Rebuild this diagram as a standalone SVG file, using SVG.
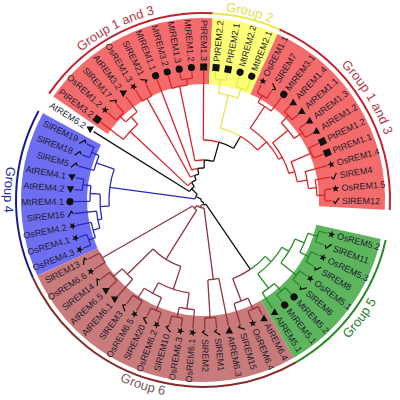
<svg xmlns="http://www.w3.org/2000/svg" width="400" height="400" viewBox="0 0 400 400">
<defs>
<style>
.t{font-family:"Liberation Sans",Arial,sans-serif;font-size:9px;fill:#1c1c30;dominant-baseline:central}
.e{text-anchor:end}
.gl{font-family:"Liberation Sans",Arial,sans-serif;font-size:13px;text-anchor:middle}
.k{stroke:#111}.r{stroke:#d8262a}.y{stroke:#e6e650}.b{stroke:#2a2ab8}.g{stroke:#2a8a2a}.m{stroke:#8e3540}
</style>
<path id="st" d="M0,-4L0.94,-1.29L3.8,-1.24L1.52,0.49L2.35,3.24L0,1.6L-2.35,3.24L-1.52,0.49L-3.8,-1.24L-0.94,-1.29Z"/>
<path id="tu" d="M0,-3.8L3.8,3L-3.8,3Z"/>
<path id="td" d="M0,3.8L3.8,-3L-3.8,-3Z"/>
<path id="ck" d="M-2.8,0L-0.8,2.4L3,-3" fill="none" stroke="#111" stroke-width="1.3"/>
<path id="p1" d="M42,95.4A192,192 0 0 1 213,8.3"/>
<path id="p2" d="M150.6,17.4A190,190 0 0 1 335,63.3"/>
<path id="p3" d="M293.6,29.6A193,193 0 0 1 395.9,193.3"/>
<path id="p4" d="M36.1,91.6A199,199 0 0 0 25.7,290.3"/>
<path id="p5" d="M281.53,385.02A201,201 0 0 0 402.49,224.5"/>
<path id="p6" d="M55.12,333.15A199,199 0 0 0 244.37,394.64"/>
</defs>
<rect width="400" height="400" fill="#fff"/>
<g id="bands" transform="translate(203,200)" fill="none" stroke-width="66">
<circle r="149" pathLength="360" stroke-dasharray="58.3 999" transform="rotate(214.65)" stroke="#f46b6b"/>
<circle r="149" pathLength="360" stroke-dasharray="21.2 999" transform="rotate(272.95)" stroke="#ffff77"/>
<circle r="149" pathLength="360" stroke-dasharray="68.9 999" transform="rotate(294.15)" stroke="#f46b6b"/>
<circle r="149" pathLength="360" stroke-dasharray="47.7 999" transform="rotate(12.35)" stroke="#5db65d"/>
<circle r="149" pathLength="360" stroke-dasharray="95.4 999" transform="rotate(60.05)" stroke="#c97a7a"/>
<circle r="149" pathLength="360" stroke-dasharray="53 999" transform="rotate(155.45)" stroke="#6e6ef2"/>
</g>
<g id="group-arcs" transform="translate(203,200)" fill="none" stroke-width="2">
<circle r="187" pathLength="360" stroke-dasharray="58.3 999" transform="rotate(214.65)" stroke="#c0232d"/>
<circle r="187" pathLength="360" stroke-dasharray="21.2 999" transform="rotate(272.95)" stroke="#e8e84a"/>
<circle r="187" pathLength="360" stroke-dasharray="68.9 999" transform="rotate(294.15)" stroke="#c0232d"/>
<circle r="187" pathLength="360" stroke-dasharray="47.7 999" transform="rotate(12.35)" stroke="#2a8a2a"/>
<circle r="187" pathLength="360" stroke-dasharray="95.4 999" transform="rotate(60.05)" stroke="#862a2a"/>
<circle r="187" pathLength="360" stroke-dasharray="53 999" transform="rotate(155.45)" stroke="#1a1a8c"/>
</g>
<g id="group-labels" class="gl">
<text fill="#b03a48"><textPath href="#p1" startOffset="50%">Group 1 and 3</textPath></text>
<text fill="#e0e050"><textPath href="#p2" startOffset="50%">Group 2</textPath></text>
<text fill="#b03a48"><textPath href="#p3" startOffset="50%">Group 1 and 3</textPath></text>
<text fill="#2a2aa8"><textPath href="#p4" startOffset="50%">Group 4</textPath></text>
<text fill="#2e802e"><textPath href="#p5" startOffset="50%">Group 5</textPath></text>
<text fill="#7a5a5a"><textPath href="#p6" startOffset="50%">Group 6</textPath></text>
</g>
<g id="connectors" transform="translate(203,200)" fill="none" stroke-width="1.3">
<g class="k">
<path d="M2 0H5" transform="rotate(82.5)"/>
<path d="M2 0H8" transform="rotate(206.1)"/>
<path d="M5 0H84" transform="rotate(55.7)"/>
<path d="M8 0H16" transform="rotate(224.5)"/>
<path d="M16 0H129" transform="rotate(212)"/>
<path d="M16 0H21" transform="rotate(237)"/>
<path d="M21 0H26" transform="rotate(250.8)"/>
<path d="M26 0H32" transform="rotate(260.5)"/>
<path d="M32 0H40" transform="rotate(271.9)"/>
<path d="M40 0H60" transform="rotate(285.43)"/>
<path d="M60 0H74" transform="rotate(300.56)"/>
<circle r="2" pathLength="360" stroke-dasharray="123.6 999" transform="rotate(82.5)"/>
<circle r="5" pathLength="360" stroke-dasharray="26.8 999" transform="rotate(55.7)"/>
<circle r="8" pathLength="360" stroke-dasharray="18.4 999" transform="rotate(206.1)"/>
<circle r="16" pathLength="360" stroke-dasharray="25 999" transform="rotate(212)"/>
<circle r="21" pathLength="360" stroke-dasharray="13.8 999" transform="rotate(237)"/>
<circle r="26" pathLength="360" stroke-dasharray="9.7 999" transform="rotate(250.8)"/>
<circle r="32" pathLength="360" stroke-dasharray="11.4 999" transform="rotate(260.5)"/>
<circle r="40" pathLength="360" stroke-dasharray="13.53 999" transform="rotate(271.9)"/>
<circle r="60" pathLength="360" stroke-dasharray="15.13 999" transform="rotate(285.43)"/>
</g>
<g class="m">
<path d="M5 0H8" transform="rotate(109.35)"/>
<path d="M84 0H108" transform="rotate(69.3)"/>
<path d="M8 0H80" transform="rotate(82.6)"/>
<path d="M8 0H12" transform="rotate(136.1)"/>
<path d="M12 0H116" transform="rotate(150.15)"/>
<path d="M12 0H70" transform="rotate(122)"/>
<path d="M70 0H106" transform="rotate(135.575)"/>
<path d="M70 0H94" transform="rotate(108.41)"/>
<path d="M106 0H118" transform="rotate(139.55)"/>
<path d="M106 0H129" transform="rotate(131.6)"/>
<path d="M94 0H106" transform="rotate(118.35)"/>
<path d="M94 0H110" transform="rotate(98.475)"/>
<path d="M106 0H118" transform="rotate(123.65)"/>
<path d="M106 0H120" transform="rotate(113.05)"/>
<path d="M110 0H120" transform="rotate(102.45)"/>
<path d="M110 0H129" transform="rotate(94.5)"/>
<path d="M120 0H129" transform="rotate(99.8)"/>
<path d="M120 0H129" transform="rotate(105.1)"/>
<path d="M120 0H129" transform="rotate(110.4)"/>
<path d="M120 0H129" transform="rotate(115.7)"/>
<path d="M118 0H129" transform="rotate(121)"/>
<path d="M118 0H129" transform="rotate(126.3)"/>
<path d="M118 0H129" transform="rotate(136.9)"/>
<path d="M118 0H129" transform="rotate(142.2)"/>
<path d="M116 0H129" transform="rotate(147.5)"/>
<path d="M116 0H129" transform="rotate(152.8)"/>
<path d="M80 0H118" transform="rotate(86.55)"/>
<path d="M80 0H129" transform="rotate(78.6)"/>
<path d="M118 0H129" transform="rotate(83.9)"/>
<path d="M118 0H129" transform="rotate(89.2)"/>
<path d="M108 0H120" transform="rotate(65.35)"/>
<path d="M108 0H129" transform="rotate(73.3)"/>
<path d="M120 0H129" transform="rotate(62.7)"/>
<path d="M120 0H129" transform="rotate(68)"/>
<circle r="5" pathLength="360" stroke-dasharray="26.85 999" transform="rotate(82.5)"/>
<circle r="84" pathLength="360" stroke-dasharray="13.6 999" transform="rotate(55.7)"/>
<circle r="8" pathLength="360" stroke-dasharray="53.5 999" transform="rotate(82.6)"/>
<circle r="12" pathLength="360" stroke-dasharray="28.15 999" transform="rotate(122)"/>
<circle r="70" pathLength="360" stroke-dasharray="27.165 999" transform="rotate(108.41)"/>
<circle r="106" pathLength="360" stroke-dasharray="7.95 999" transform="rotate(131.6)"/>
<circle r="94" pathLength="360" stroke-dasharray="19.875 999" transform="rotate(98.475)"/>
<circle r="106" pathLength="360" stroke-dasharray="10.6 999" transform="rotate(113.05)"/>
<circle r="110" pathLength="360" stroke-dasharray="7.95 999" transform="rotate(94.5)"/>
<circle r="120" pathLength="360" stroke-dasharray="5.3 999" transform="rotate(99.8)"/>
<circle r="120" pathLength="360" stroke-dasharray="5.3 999" transform="rotate(110.4)"/>
<circle r="118" pathLength="360" stroke-dasharray="5.3 999" transform="rotate(121)"/>
<circle r="118" pathLength="360" stroke-dasharray="5.3 999" transform="rotate(136.9)"/>
<circle r="116" pathLength="360" stroke-dasharray="5.3 999" transform="rotate(147.5)"/>
<circle r="80" pathLength="360" stroke-dasharray="7.95 999" transform="rotate(78.6)"/>
<circle r="118" pathLength="360" stroke-dasharray="5.3 999" transform="rotate(83.9)"/>
<circle r="108" pathLength="360" stroke-dasharray="7.95 999" transform="rotate(65.35)"/>
<circle r="120" pathLength="360" stroke-dasharray="5.3 999" transform="rotate(62.7)"/>
</g>
<g class="g">
<path d="M84 0H92" transform="rotate(42.15)"/>
<path d="M92 0H100" transform="rotate(30.9)"/>
<path d="M92 0H110" transform="rotate(53.4)"/>
<path d="M100 0H110" transform="rotate(22.95)"/>
<path d="M100 0H120" transform="rotate(38.85)"/>
<path d="M110 0H120" transform="rotate(17.65)"/>
<path d="M110 0H120" transform="rotate(28.25)"/>
<path d="M110 0H120" transform="rotate(49.45)"/>
<path d="M110 0H129" transform="rotate(57.4)"/>
<path d="M120 0H129" transform="rotate(15)"/>
<path d="M120 0H129" transform="rotate(20.3)"/>
<path d="M120 0H129" transform="rotate(25.6)"/>
<path d="M120 0H129" transform="rotate(30.9)"/>
<path d="M120 0H129" transform="rotate(36.2)"/>
<path d="M120 0H129" transform="rotate(41.5)"/>
<path d="M120 0H129" transform="rotate(46.8)"/>
<path d="M120 0H129" transform="rotate(52.1)"/>
<circle r="84" pathLength="360" stroke-dasharray="13.55 999" transform="rotate(42.15)"/>
<circle r="92" pathLength="360" stroke-dasharray="22.5 999" transform="rotate(30.9)"/>
<circle r="100" pathLength="360" stroke-dasharray="15.9 999" transform="rotate(22.95)"/>
<circle r="110" pathLength="360" stroke-dasharray="10.6 999" transform="rotate(17.65)"/>
<circle r="110" pathLength="360" stroke-dasharray="7.95 999" transform="rotate(49.45)"/>
<circle r="120" pathLength="360" stroke-dasharray="5.3 999" transform="rotate(15)"/>
<circle r="120" pathLength="360" stroke-dasharray="5.3 999" transform="rotate(25.6)"/>
<circle r="120" pathLength="360" stroke-dasharray="5.3 999" transform="rotate(36.2)"/>
<circle r="120" pathLength="360" stroke-dasharray="5.3 999" transform="rotate(46.8)"/>
</g>
<g class="b">
<path d="M8 0H94" transform="rotate(187.75)"/>
<path d="M94 0H113" transform="rotate(199.2)"/>
<path d="M94 0H103" transform="rotate(176.3)"/>
<path d="M113 0H121" transform="rotate(203.15)"/>
<path d="M113 0H129" transform="rotate(195.2)"/>
<path d="M103 0H113" transform="rotate(183.3)"/>
<path d="M103 0H107" transform="rotate(169.35)"/>
<path d="M113 0H121" transform="rotate(187.25)"/>
<path d="M113 0H129" transform="rotate(179.3)"/>
<path d="M107 0H114" transform="rotate(164.7)"/>
<path d="M107 0H129" transform="rotate(174)"/>
<path d="M114 0H121" transform="rotate(160.75)"/>
<path d="M114 0H129" transform="rotate(168.7)"/>
<path d="M121 0H129" transform="rotate(200.5)"/>
<path d="M121 0H129" transform="rotate(205.8)"/>
<path d="M121 0H129" transform="rotate(184.6)"/>
<path d="M121 0H129" transform="rotate(189.9)"/>
<path d="M121 0H129" transform="rotate(158.1)"/>
<path d="M121 0H129" transform="rotate(163.4)"/>
<circle r="8" pathLength="360" stroke-dasharray="18.35 999" transform="rotate(187.75)"/>
<circle r="94" pathLength="360" stroke-dasharray="22.9 999" transform="rotate(176.3)"/>
<circle r="113" pathLength="360" stroke-dasharray="7.95 999" transform="rotate(195.2)"/>
<circle r="103" pathLength="360" stroke-dasharray="13.95 999" transform="rotate(169.35)"/>
<circle r="113" pathLength="360" stroke-dasharray="7.95 999" transform="rotate(179.3)"/>
<circle r="107" pathLength="360" stroke-dasharray="9.3 999" transform="rotate(164.7)"/>
<circle r="114" pathLength="360" stroke-dasharray="7.95 999" transform="rotate(160.75)"/>
<circle r="121" pathLength="360" stroke-dasharray="5.3 999" transform="rotate(200.5)"/>
<circle r="121" pathLength="360" stroke-dasharray="5.3 999" transform="rotate(184.6)"/>
<circle r="121" pathLength="360" stroke-dasharray="5.3 999" transform="rotate(158.1)"/>
</g>
<g class="r">
<path d="M21 0H100" transform="rotate(223.25)"/>
<path d="M26 0H116" transform="rotate(241.15)"/>
<path d="M32 0H129" transform="rotate(249.1)"/>
<path d="M40 0H116" transform="rotate(258.4)"/>
<path d="M60 0H129" transform="rotate(270.3)"/>
<path d="M74 0H86" transform="rotate(317.575)"/>
<path d="M100 0H129" transform="rotate(217.3)"/>
<path d="M100 0H110" transform="rotate(229.2)"/>
<path d="M110 0H118" transform="rotate(225.25)"/>
<path d="M110 0H129" transform="rotate(233.2)"/>
<path d="M118 0H129" transform="rotate(222.6)"/>
<path d="M118 0H129" transform="rotate(227.9)"/>
<path d="M116 0H129" transform="rotate(238.5)"/>
<path d="M116 0H129" transform="rotate(243.8)"/>
<path d="M116 0H129" transform="rotate(254.4)"/>
<path d="M116 0H122" transform="rotate(262.35)"/>
<path d="M122 0H129" transform="rotate(259.7)"/>
<path d="M122 0H129" transform="rotate(265)"/>
<path d="M86 0H112" transform="rotate(303.4)"/>
<path d="M86 0H90" transform="rotate(331.75)"/>
<path d="M112 0H120" transform="rotate(299.45)"/>
<path d="M112 0H129" transform="rotate(307.4)"/>
<path d="M120 0H129" transform="rotate(296.8)"/>
<path d="M120 0H129" transform="rotate(302.1)"/>
<path d="M90 0H110" transform="rotate(320.65)"/>
<path d="M90 0H96" transform="rotate(342.85)"/>
<path d="M110 0H120" transform="rotate(315.35)"/>
<path d="M110 0H120" transform="rotate(325.95)"/>
<path d="M120 0H129" transform="rotate(312.7)"/>
<path d="M120 0H129" transform="rotate(318)"/>
<path d="M120 0H129" transform="rotate(323.3)"/>
<path d="M120 0H129" transform="rotate(328.6)"/>
<path d="M96 0H118" transform="rotate(336.55)"/>
<path d="M96 0H106" transform="rotate(349.15)"/>
<path d="M118 0H129" transform="rotate(333.9)"/>
<path d="M118 0H129" transform="rotate(339.2)"/>
<path d="M106 0H129" transform="rotate(344.5)"/>
<path d="M106 0H114" transform="rotate(353.8)"/>
<path d="M114 0H129" transform="rotate(349.8)"/>
<path d="M114 0H122" transform="rotate(357.75)"/>
<path d="M122 0H129" transform="rotate(355.1)"/>
<path d="M122 0H129" transform="rotate(360.4)"/>
<circle r="21" pathLength="360" stroke-dasharray="13.75 999" transform="rotate(223.25)"/>
<circle r="26" pathLength="360" stroke-dasharray="9.65 999" transform="rotate(241.15)"/>
<circle r="32" pathLength="360" stroke-dasharray="11.4 999" transform="rotate(249.1)"/>
<circle r="40" pathLength="360" stroke-dasharray="13.5 999" transform="rotate(258.4)"/>
<circle r="60" pathLength="360" stroke-dasharray="15.13 999" transform="rotate(270.3)"/>
<circle r="74" pathLength="360" stroke-dasharray="17.015 999" transform="rotate(300.56)"/>
<circle r="100" pathLength="360" stroke-dasharray="11.9 999" transform="rotate(217.3)"/>
<circle r="110" pathLength="360" stroke-dasharray="7.95 999" transform="rotate(225.25)"/>
<circle r="118" pathLength="360" stroke-dasharray="5.3 999" transform="rotate(222.6)"/>
<circle r="116" pathLength="360" stroke-dasharray="5.3 999" transform="rotate(238.5)"/>
<circle r="116" pathLength="360" stroke-dasharray="7.95 999" transform="rotate(254.4)"/>
<circle r="122" pathLength="360" stroke-dasharray="5.3 999" transform="rotate(259.7)"/>
<circle r="86" pathLength="360" stroke-dasharray="28.35 999" transform="rotate(303.4)"/>
<circle r="112" pathLength="360" stroke-dasharray="7.95 999" transform="rotate(299.45)"/>
<circle r="120" pathLength="360" stroke-dasharray="5.3 999" transform="rotate(296.8)"/>
<circle r="90" pathLength="360" stroke-dasharray="22.2 999" transform="rotate(320.65)"/>
<circle r="110" pathLength="360" stroke-dasharray="10.6 999" transform="rotate(315.35)"/>
<circle r="120" pathLength="360" stroke-dasharray="5.3 999" transform="rotate(312.7)"/>
<circle r="120" pathLength="360" stroke-dasharray="5.3 999" transform="rotate(323.3)"/>
<circle r="96" pathLength="360" stroke-dasharray="12.6 999" transform="rotate(336.55)"/>
<circle r="118" pathLength="360" stroke-dasharray="5.3 999" transform="rotate(333.9)"/>
<circle r="106" pathLength="360" stroke-dasharray="9.3 999" transform="rotate(344.5)"/>
<circle r="114" pathLength="360" stroke-dasharray="7.95 999" transform="rotate(349.8)"/>
<circle r="122" pathLength="360" stroke-dasharray="5.3 999" transform="rotate(355.1)"/>
</g>
<g class="y">
<path d="M74 0H108" transform="rotate(283.55)"/>
<path d="M108 0H122" transform="rotate(278.25)"/>
<path d="M108 0H118" transform="rotate(288.85)"/>
<path d="M122 0H129" transform="rotate(275.6)"/>
<path d="M122 0H129" transform="rotate(280.9)"/>
<path d="M118 0H129" transform="rotate(286.2)"/>
<path d="M118 0H129" transform="rotate(291.5)"/>
<circle r="74" pathLength="360" stroke-dasharray="17.01 999" transform="rotate(283.55)"/>
<circle r="108" pathLength="360" stroke-dasharray="10.6 999" transform="rotate(278.25)"/>
<circle r="122" pathLength="360" stroke-dasharray="5.3 999" transform="rotate(275.6)"/>
<circle r="118" pathLength="360" stroke-dasharray="5.3 999" transform="rotate(286.2)"/>
</g>
</g>
<g id="leaves" transform="translate(203,200)" fill="#111">
<g id="n-AtREM6_2" transform="rotate(212)"><use href="#td" transform="translate(133,0) rotate(-212)"/><text class="t e" transform="translate(139) rotate(180)">AtREM6.2</text></g>
<g id="n-PtREM3_2" transform="rotate(217.3)"><rect x="129.5" y="-3.5" width="7" height="7"/><text class="t e" transform="translate(139) rotate(180)">PtREM3.2</text></g>
<g id="n-OsREM1_2" transform="rotate(222.6)"><use href="#st" x="133"/><text class="t e" transform="translate(139) rotate(180)">OsREM1.2</text></g>
<g id="n-SlREM17" transform="rotate(227.9)"><use href="#ck" x="133"/><text class="t e" transform="translate(139) rotate(180)">SlREM17</text></g>
<g id="n-AtREM3_2" transform="rotate(233.2)"><use href="#td" transform="translate(133,0) rotate(-233.2)"/><text class="t e" transform="translate(139) rotate(180)">AtREM3.2</text></g>
<g id="n-OsREM1_3" transform="rotate(238.5)"><use href="#st" x="133"/><text class="t e" transform="translate(139) rotate(180)">OsREM1.3</text></g>
<g id="n-SlREM21" transform="rotate(243.8)"><use href="#ck" x="133"/><text class="t e" transform="translate(139) rotate(180)">SlREM21</text></g>
<g id="n-MtREM1_1" transform="rotate(249.1)"><circle cx="133" r="3.6"/><text class="t e" transform="translate(139) rotate(180)">MtREM1.1</text></g>
<g id="n-MtREM3_2" transform="rotate(254.4)"><circle cx="133" r="3.6"/><text class="t e" transform="translate(139) rotate(180)">MtREM3.2</text></g>
<g id="n-MtREM1_3" transform="rotate(259.7)"><circle cx="133" r="3.6"/><text class="t e" transform="translate(139) rotate(180)">MtREM1.3</text></g>
<g id="n-MtREM1_2" transform="rotate(265)"><circle cx="133" r="3.6"/><text class="t e" transform="translate(139) rotate(180)">MtREM1.2</text></g>
<g id="n-PtREM1_3" transform="rotate(270.3)"><rect x="129.5" y="-3.5" width="7" height="7"/><text class="t e" transform="translate(139) rotate(180)">PtREM1.3</text></g>
<g id="n-PtREM2_2" transform="rotate(275.6)"><rect x="129.5" y="-3.5" width="7" height="7"/><text class="t" x="139">PtREM2.2</text></g>
<g id="n-PtREM2_1" transform="rotate(280.9)"><rect x="129.5" y="-3.5" width="7" height="7"/><text class="t" x="139">PtREM2.1</text></g>
<g id="n-MtREM2_2" transform="rotate(286.2)"><circle cx="133" r="3.6"/><text class="t" x="139">MtREM2.2</text></g>
<g id="n-MtREM2_1" transform="rotate(291.5)"><circle cx="133" r="3.6"/><text class="t" x="139">MtREM2.1</text></g>
<g id="n-OsREM1_1" transform="rotate(296.8)"><use href="#st" x="133"/><text class="t" x="139">OsREM1.1</text></g>
<g id="n-SlREM7" transform="rotate(302.1)"><use href="#ck" x="133"/><text class="t" x="139">SlREM7</text></g>
<g id="n-MtREM3_1" transform="rotate(307.4)"><circle cx="133" r="3.6"/><text class="t" x="139">MtREM3.1</text></g>
<g id="n-AtREM1_4" transform="rotate(312.7)"><use href="#tu" transform="translate(133,0) rotate(-312.7)"/><text class="t" x="139">AtREM1.4</text></g>
<g id="n-AtREM1_1" transform="rotate(318)"><use href="#tu" transform="translate(133,0) rotate(-318)"/><text class="t" x="139">AtREM1.1</text></g>
<g id="n-AtREM1_3" transform="rotate(323.3)"><use href="#tu" transform="translate(133,0) rotate(-323.3)"/><text class="t" x="139">AtREM1.3</text></g>
<g id="n-AtREM1_2" transform="rotate(328.6)"><use href="#tu" transform="translate(133,0) rotate(-328.6)"/><text class="t" x="139">AtREM1.2</text></g>
<g id="n-PtREM1_2" transform="rotate(333.9)"><rect x="129.5" y="-3.5" width="7" height="7"/><text class="t" x="139">PtREM1.2</text></g>
<g id="n-PtREM1_1" transform="rotate(339.2)"><rect x="129.5" y="-3.5" width="7" height="7"/><text class="t" x="139">PtREM1.1</text></g>
<g id="n-OsREM1_4" transform="rotate(344.5)"><use href="#st" x="133"/><text class="t" x="139">OsREM1.4</text></g>
<g id="n-SlREM4" transform="rotate(349.8)"><use href="#ck" x="133"/><text class="t" x="139">SlREM4</text></g>
<g id="n-OsREM1_5" transform="rotate(355.1)"><use href="#st" x="133"/><text class="t" x="139">OsREM1.5</text></g>
<g id="n-SlREM12" transform="rotate(360.4)"><use href="#ck" x="133"/><text class="t" x="139">SlREM12</text></g>
<g id="n-OsREM5_2" transform="rotate(15)"><use href="#st" x="133"/><text class="t" x="139">OsREM5.2</text></g>
<g id="n-SlREM11" transform="rotate(20.3)"><use href="#ck" x="133"/><text class="t" x="139">SlREM11</text></g>
<g id="n-OsREM5_3" transform="rotate(25.6)"><use href="#st" x="133"/><text class="t" x="139">OsREM5.3</text></g>
<g id="n-SlREM8" transform="rotate(30.9)"><use href="#ck" x="133"/><text class="t" x="139">SlREM8</text></g>
<g id="n-OsREM5_1" transform="rotate(36.2)"><use href="#st" x="133"/><text class="t" x="139">OsREM5.1</text></g>
<g id="n-SlREM6" transform="rotate(41.5)"><use href="#ck" x="133"/><text class="t" x="139">SlREM6</text></g>
<g id="n-MtREM5_2" transform="rotate(46.8)"><circle cx="133" r="3.6"/><text class="t" x="139">MtREM5.2</text></g>
<g id="n-MtREM5_1" transform="rotate(52.1)"><circle cx="133" r="3.6"/><text class="t" x="139">MtREM5.1</text></g>
<g id="n-AtREM5_1" transform="rotate(57.4)"><use href="#tu" transform="translate(133,0) rotate(-57.4)"/><text class="t" x="139">AtREM5.1</text></g>
<g id="n-AtREM6_4" transform="rotate(62.7)"><use href="#tu" transform="translate(133,0) rotate(-62.7)"/><text class="t" x="139">AtREM6.4</text></g>
<g id="n-OsREM6_4" transform="rotate(68)"><use href="#st" x="133"/><text class="t" x="139">OsREM6.4</text></g>
<g id="n-SlREM15" transform="rotate(73.3)"><use href="#ck" x="133"/><text class="t" x="139">SlREM15</text></g>
<g id="n-AtREM6_3" transform="rotate(78.6)"><use href="#tu" transform="translate(133,0) rotate(-78.6)"/><text class="t" x="139">AtREM6.3</text></g>
<g id="n-SlREM1" transform="rotate(83.9)"><use href="#ck" x="133"/><text class="t" x="139">SlREM1</text></g>
<g id="n-SlREM2" transform="rotate(89.2)"><use href="#ck" x="133"/><text class="t" x="139">SlREM2</text></g>
<g id="n-OsREM6_1" transform="rotate(94.5)"><use href="#st" x="133"/><text class="t e" transform="translate(139) rotate(180)">OsREM6.1</text></g>
<g id="n-OsREM6_3" transform="rotate(99.8)"><use href="#st" x="133"/><text class="t e" transform="translate(139) rotate(180)">OsREM6.3</text></g>
<g id="n-SlREM10" transform="rotate(105.1)"><use href="#ck" x="133"/><text class="t e" transform="translate(139) rotate(180)">SlREM10</text></g>
<g id="n-OsREM6_2" transform="rotate(110.4)"><use href="#st" x="133"/><text class="t e" transform="translate(139) rotate(180)">OsREM6.2</text></g>
<g id="n-SlREM20" transform="rotate(115.7)"><use href="#ck" x="133"/><text class="t e" transform="translate(139) rotate(180)">SlREM20</text></g>
<g id="n-OsREM6_5" transform="rotate(121)"><use href="#st" x="133"/><text class="t e" transform="translate(139) rotate(180)">OsREM6.5</text></g>
<g id="n-SlREM3" transform="rotate(126.3)"><use href="#ck" x="133"/><text class="t e" transform="translate(139) rotate(180)">SlREM3</text></g>
<g id="n-AtREM6_1" transform="rotate(131.6)"><use href="#td" transform="translate(133,0) rotate(-131.6)"/><text class="t e" transform="translate(139) rotate(180)">AtREM6.1</text></g>
<g id="n-AtREM6_5" transform="rotate(136.9)"><use href="#td" transform="translate(133,0) rotate(-136.9)"/><text class="t e" transform="translate(139) rotate(180)">AtREM6.5</text></g>
<g id="n-SlREM14" transform="rotate(142.2)"><use href="#ck" x="133"/><text class="t e" transform="translate(139) rotate(180)">SlREM14</text></g>
<g id="n-OsREM6_6" transform="rotate(147.5)"><use href="#st" x="133"/><text class="t e" transform="translate(139) rotate(180)">OsREM6.6</text></g>
<g id="n-SlREM13" transform="rotate(152.8)"><use href="#ck" x="133"/><text class="t e" transform="translate(139) rotate(180)">SlREM13</text></g>
<g id="n-OsREM4_3" transform="rotate(158.1)"><use href="#st" x="133"/><text class="t e" transform="translate(139) rotate(180)">OsREM4.3</text></g>
<g id="n-OsREM4_1" transform="rotate(163.4)"><use href="#st" x="133"/><text class="t e" transform="translate(139) rotate(180)">OsREM4.1</text></g>
<g id="n-OsREM4_2" transform="rotate(168.7)"><use href="#st" x="133"/><text class="t e" transform="translate(139) rotate(180)">OsREM4.2</text></g>
<g id="n-SlREM16" transform="rotate(174)"><use href="#ck" x="133"/><text class="t e" transform="translate(139) rotate(180)">SlREM16</text></g>
<g id="n-MtREM4_1" transform="rotate(179.3)"><circle cx="133" r="3.6"/><text class="t e" transform="translate(139) rotate(180)">MtREM4.1</text></g>
<g id="n-AtREM4_2" transform="rotate(184.6)"><use href="#td" transform="translate(133,0) rotate(-184.6)"/><text class="t e" transform="translate(139) rotate(180)">AtREM4.2</text></g>
<g id="n-AtREM4_1" transform="rotate(189.9)"><use href="#td" transform="translate(133,0) rotate(-189.9)"/><text class="t e" transform="translate(139) rotate(180)">AtREM4.1</text></g>
<g id="n-SlREM5" transform="rotate(195.2)"><use href="#ck" x="133"/><text class="t e" transform="translate(139) rotate(180)">SlREM5</text></g>
<g id="n-SlREM18" transform="rotate(200.5)"><use href="#ck" x="133"/><text class="t e" transform="translate(139) rotate(180)">SlREM18</text></g>
<g id="n-SlREM19" transform="rotate(205.8)"><use href="#ck" x="133"/><text class="t e" transform="translate(139) rotate(180)">SlREM19</text></g>
</g>
</svg>
